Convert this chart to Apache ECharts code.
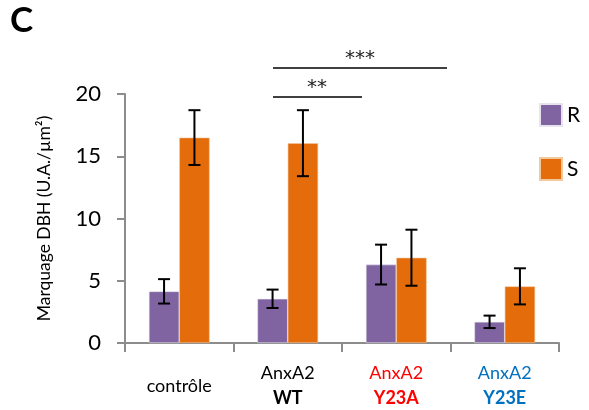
<!DOCTYPE html>
<html>
<head>
<meta charset="utf-8">
<script src="https://cdn.jsdelivr.net/npm/echarts@6/dist/echarts.min.js"></script>
<style>
  html, body { margin: 0; padding: 0; background: #fff; }
  #chart { width: 589px; height: 410px; }
</style>
</head>
<body>
<div id="chart"></div>
<script>
// données
var categories = ['contrôle', 'AnxA2\nWT', 'AnxA2\nY23A', 'AnxA2\nY23E'];
var valuesR = [4.15, 3.55, 6.3, 1.7];
var errR = [0.98, 0.74, 1.6, 0.5];
var valuesS = [16.5, 16.05, 6.85, 4.55];
var errS = [2.2, 2.65, 2.25, 1.45];
var yTicks = [0, 5, 10, 15, 20];

var colR = '#8064a2';
var colS = '#e46c0a';
var catGap = 0.44;

function errData(vals, errs) {
  return vals.map(function (v, i) { return [i, v - errs[i], v + errs[i]]; });
}

function errorBar(side) {
  return function (params, api) {
    var i = api.value(0);
    var lo = api.coord([i, api.value(1)]);
    var hi = api.coord([i, api.value(2)]);
    var band = api.size([1, 0])[0];
    var bw = band * (1 - catGap) / 2;
    var x = lo[0] + side * bw / 2;
    var cap = 6;
    var st = { stroke: '#000', lineWidth: 2 };
    return {
      type: 'group',
      children: [
        { type: 'line', shape: { x1: x, y1: lo[1], x2: x, y2: hi[1] }, style: st },
        { type: 'line', shape: { x1: x - cap, y1: lo[1], x2: x + cap, y2: lo[1] }, style: st },
        { type: 'line', shape: { x1: x - cap, y1: hi[1], x2: x + cap, y2: hi[1] }, style: st }
      ]
    };
  };
}

var labelColors = ['#000', '#000', '#ff0000', '#0070c0'];
var font = 'Lato, "Open Sans", sans-serif';

var chart = echarts.init(document.getElementById('chart'));
chart.setOption({
  animation: false,
  textStyle: { fontFamily: font },
  title: {
    text: 'C', left: 10, top: 3, padding: 0,
    textStyle: { fontSize: 35, fontWeight: 'bold', color: '#000', fontFamily: font }
  },
  legend: {
    orient: 'vertical', left: 539, top: 103, padding: 0,
    itemWidth: 22, itemHeight: 22, itemGap: 30,
    textStyle: { fontSize: 21, color: '#000' },
    data: [{ name: 'R', icon: 'rect' }, { name: 'S', icon: 'rect' }]
  },
  grid: { left: 125, right: 30, top: 94, bottom: 67 },
  xAxis: {
    type: 'category',
    data: categories,
    axisLine: { lineStyle: { color: '#8c8c8c', width: 2 } },
    axisTick: { show: true, length: 9, lineStyle: { color: '#8c8c8c', width: 2 } },
    axisLabel: {
      margin: 18,
      formatter: function (v, i) {
        var parts = v.split('\n');
        if (parts.length === 1) return '{one|' + v + '}';
        return '{a' + i + '|' + parts[0] + '}\n{b' + i + '|' + parts[1] + '}';
      },
      rich: (function () {
        var r = { one: { fontSize: 18, color: '#000', lineHeight: 50, fontFamily: font } };
        labelColors.forEach(function (c, i) {
          r['a' + i] = { fontSize: 18, color: c, lineHeight: 25, fontFamily: font };
          r['b' + i] = { fontSize: 18, color: c, fontWeight: 'bold', lineHeight: 25, fontFamily: font };
        });
        return r;
      })()
    }
  },
  yAxis: {
    type: 'value',
    min: 0, max: 20, interval: 5,
    name: 'Marquage DBH (U.A./µm²)',
    nameLocation: 'middle',
    nameGap: 72,
    nameTextStyle: { fontSize: 17.5, color: '#000', fontFamily: font },
    splitLine: { show: false },
    axisLine: { show: true, lineStyle: { color: '#8c8c8c', width: 2 } },
    axisTick: { show: true, length: 8, lineStyle: { color: '#8c8c8c', width: 2 } },
    axisLabel: {
      margin: 24, fontSize: 22, color: '#000',
      formatter: function (v) { return yTicks.indexOf(v) >= 0 ? String(v) : ''; }
    }
  },
  series: [
    {
      name: 'R', type: 'bar', data: valuesR,
      barGap: '0%', barCategoryGap: (catGap * 100) + '%',
      itemStyle: { color: colR, borderColor: '#e8e4ef', borderWidth: 0.6 }
    },
    {
      name: 'S', type: 'bar', data: valuesS,
      itemStyle: { color: colS, borderColor: '#f2c8a0', borderWidth: 0.6 }
    },
    {
      type: 'custom', renderItem: errorBar(-1), data: errData(valuesR, errR),
      encode: { x: 0, y: [1, 2] }, z: 10, silent: true
    },
    {
      type: 'custom', renderItem: errorBar(1), data: errData(valuesS, errS),
      encode: { x: 0, y: [1, 2] }, z: 10, silent: true
    }
  ],
  graphic: [
    { type: 'line', shape: { x1: 273, y1: 97, x2: 362, y2: 97 }, style: { stroke: '#000', lineWidth: 1.5 } },
    { type: 'text', x: 317, y: 88, style: { text: '**', fontSize: 20, fill: '#222', align: 'center', verticalAlign: 'middle', fontFamily: 'DejaVu Sans' } },
    { type: 'line', shape: { x1: 273, y1: 68, x2: 447, y2: 68 }, style: { stroke: '#000', lineWidth: 1.5 } },
    { type: 'text', x: 360, y: 59, style: { text: '***', fontSize: 20, fill: '#222', align: 'center', verticalAlign: 'middle', fontFamily: 'DejaVu Sans' } }
  ]
});
</script>
</body>
</html>
